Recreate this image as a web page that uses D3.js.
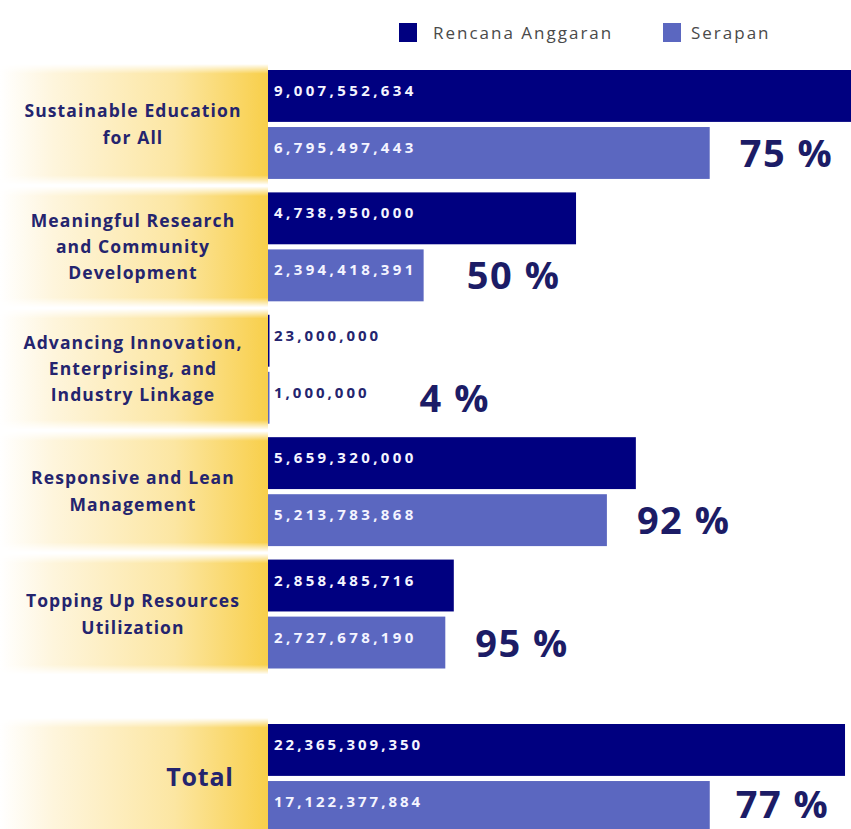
<!DOCTYPE html>
<html>
<head>
<meta charset="utf-8">
<script src="https://cdn.jsdelivr.net/npm/d3@7"></script>
<style>
  html, body { margin: 0; padding: 0; background: #fff; }
  svg { display: block; font-family: "Open Sans", "Noto Sans", sans-serif; }
  .cat-label { font-weight: 700; font-size: 17.5px; letter-spacing: 1.1px; fill: #24246e; }
  .total-label { font-weight: 700; font-size: 25px; letter-spacing: 0.8px; fill: #24246e; }
  .value-label { font-weight: 700; font-size: 15px; letter-spacing: 3.4px; fill: #f4f4ff; }
  .value-label.outside { fill: #24246e; letter-spacing: 3px; }
  .pct-label { font-weight: 700; font-size: 38px; letter-spacing: 1.5px; fill: #1c1c66; }
  .legend-label { font-size: 17px; letter-spacing: 2px; fill: #4a4a4a; }
</style>
</head>
<body>
<div id="chart"></div>
<script>
const CATEGORIES = [
  ["Sustainable Education", "for All"],
  ["Meaningful Research", "and Community", "Development"],
  ["Advancing Innovation,", "Enterprising, and", "Industry Linkage"],
  ["Responsive and Lean", "Management"],
  ["Topping Up Resources", "Utilization"],
];
const RENCANA = [9007552634, 4738950000, 23000000, 5659320000, 2858485716];
const SERAPAN = [6795497443, 2394418391, 1000000, 5213783868, 2727678190];
const PERCENT_LABELS = ["75 %", "50 %", "4 %", "92 %", "95 %"];

const TOTAL_LABEL = "Total";
const TOTAL_RENCANA = 22365309350;
const TOTAL_SERAPAN = 17122377884;
const TOTAL_PERCENT = "77 %";

const SERIES = ["Rencana Anggaran", "Serapan"];
const COLORS = ["#000080", "#5b67c0"];

const width = 851;
const height = 829;
const barLeft = 268;

const svg = d3.select("#chart").append("svg").attr("width", width).attr("height", height);

const defs = svg.append("defs");
const grad = defs.append("linearGradient").attr("id", "labelGrad").attr("x1", "0%").attr("x2", "100%");
grad.append("stop").attr("offset", "0%").attr("stop-color", "#ffffff");
grad.append("stop").attr("offset", "20%").attr("stop-color", "#fef5dc");
grad.append("stop").attr("offset", "65%").attr("stop-color", "#fce6a2");
grad.append("stop").attr("offset", "100%").attr("stop-color", "#f8cf4a");

const vgrad = defs.append("linearGradient").attr("id", "fadeV").attr("x1", "0").attr("x2", "0").attr("y1", "0").attr("y2", "1");
vgrad.append("stop").attr("offset", "0%").attr("stop-color", "#fff").attr("stop-opacity", 0);
vgrad.append("stop").attr("offset", "8%").attr("stop-color", "#fff").attr("stop-opacity", 1);
vgrad.append("stop").attr("offset", "92%").attr("stop-color", "#fff").attr("stop-opacity", 1);
vgrad.append("stop").attr("offset", "100%").attr("stop-color", "#fff").attr("stop-opacity", 0);
defs.append("mask").attr("id", "fadeMask").attr("maskContentUnits", "objectBoundingBox")
  .append("rect").attr("width", 1).attr("height", 1).attr("fill", "url(#fadeV)");

// scales
const y = d3.scaleBand().domain(d3.range(CATEGORIES.length)).range([70, 668.5]).paddingInner(0.11).paddingOuter(0);
const x = d3.scaleLinear().domain([0, 1e10]).range([barLeft, barLeft + 650]);
const xTotal = d3.scaleLinear().domain([0, 2.5e10]).range([barLeft, barLeft + 645]);

// legend
const legend = svg.append("g").attr("transform", "translate(399, 23)");
SERIES.forEach((name, i) => {
  const g = legend.append("g").attr("transform", `translate(${i * 264}, 0)`);
  g.append("rect").attr("width", 18).attr("height", 19).attr("fill", COLORS[i]);
  g.append("text").attr("class", "legend-label").attr("x", i === 0 ? 34 : 28).attr("y", 16).text(name);
});

function drawGroup(top, bandH, labelLines, values, pct, scale, isTotal) {
  const g = svg.append("g").attr("transform", `translate(0, ${top})`);

  g.append("rect")
    .attr("x", 0).attr("y", -6)
    .attr("width", barLeft).attr("height", bandH + 12)
    .attr("fill", "url(#labelGrad)")
    .attr("mask", "url(#fadeMask)");

  const lineH = labelLines.length === 2 ? 27 : 26;
  const textY = bandH / 2 - ((labelLines.length - 1) * lineH) / 2;
  const labelX = isTotal ? 200 : 133;
  const label = g.append("text")
    .attr("class", isTotal ? "total-label" : "cat-label")
    .attr("text-anchor", "middle");
  labelLines.forEach((line, i) => {
    label.append("tspan").attr("x", labelX).attr("y", textY + i * lineH + (isTotal ? 8 : 6)).text(line);
  });

  const inner = d3.scaleBand().domain([0, 1]).range([0, bandH]).paddingInner(0.09);
  let textEnd = 0;
  values.forEach((v, i) => {
    const w = scale(v) - barLeft;
    g.append("rect")
      .attr("x", barLeft).attr("y", inner(i))
      .attr("width", Math.max(w, 1.5)).attr("height", inner.bandwidth())
      .attr("fill", COLORS[i]);
    const outside = w < 120;
    const t = g.append("text")
      .attr("class", outside ? "value-label outside" : "value-label")
      .attr("x", barLeft + 6)
      .attr("y", inner(i) + inner.bandwidth() / 2)
      .text(d3.format(",")(v));
    if (isTotal) t.style("letter-spacing", "3px");
    if (i === 1) textEnd = barLeft + 6 + t.node().getComputedTextLength();
  });

  const barEnd = Math.max(scale(values[1]), textEnd + 20);
  g.append("text")
    .attr("class", "pct-label")
    .attr("x", barEnd + (isTotal ? 26 : 30))
    .attr("y", inner(1) + inner.bandwidth() / 2 + (isTotal ? 11 : 14))
    .text(pct);
}

CATEGORIES.forEach((lines, i) => {
  drawGroup(y(i), y.bandwidth(), lines, [RENCANA[i], SERAPAN[i]], PERCENT_LABELS[i], x, false);
});

drawGroup(724, y.bandwidth(), [TOTAL_LABEL], [TOTAL_RENCANA, TOTAL_SERAPAN], TOTAL_PERCENT, xTotal, true);
</script>
</body>
</html>
